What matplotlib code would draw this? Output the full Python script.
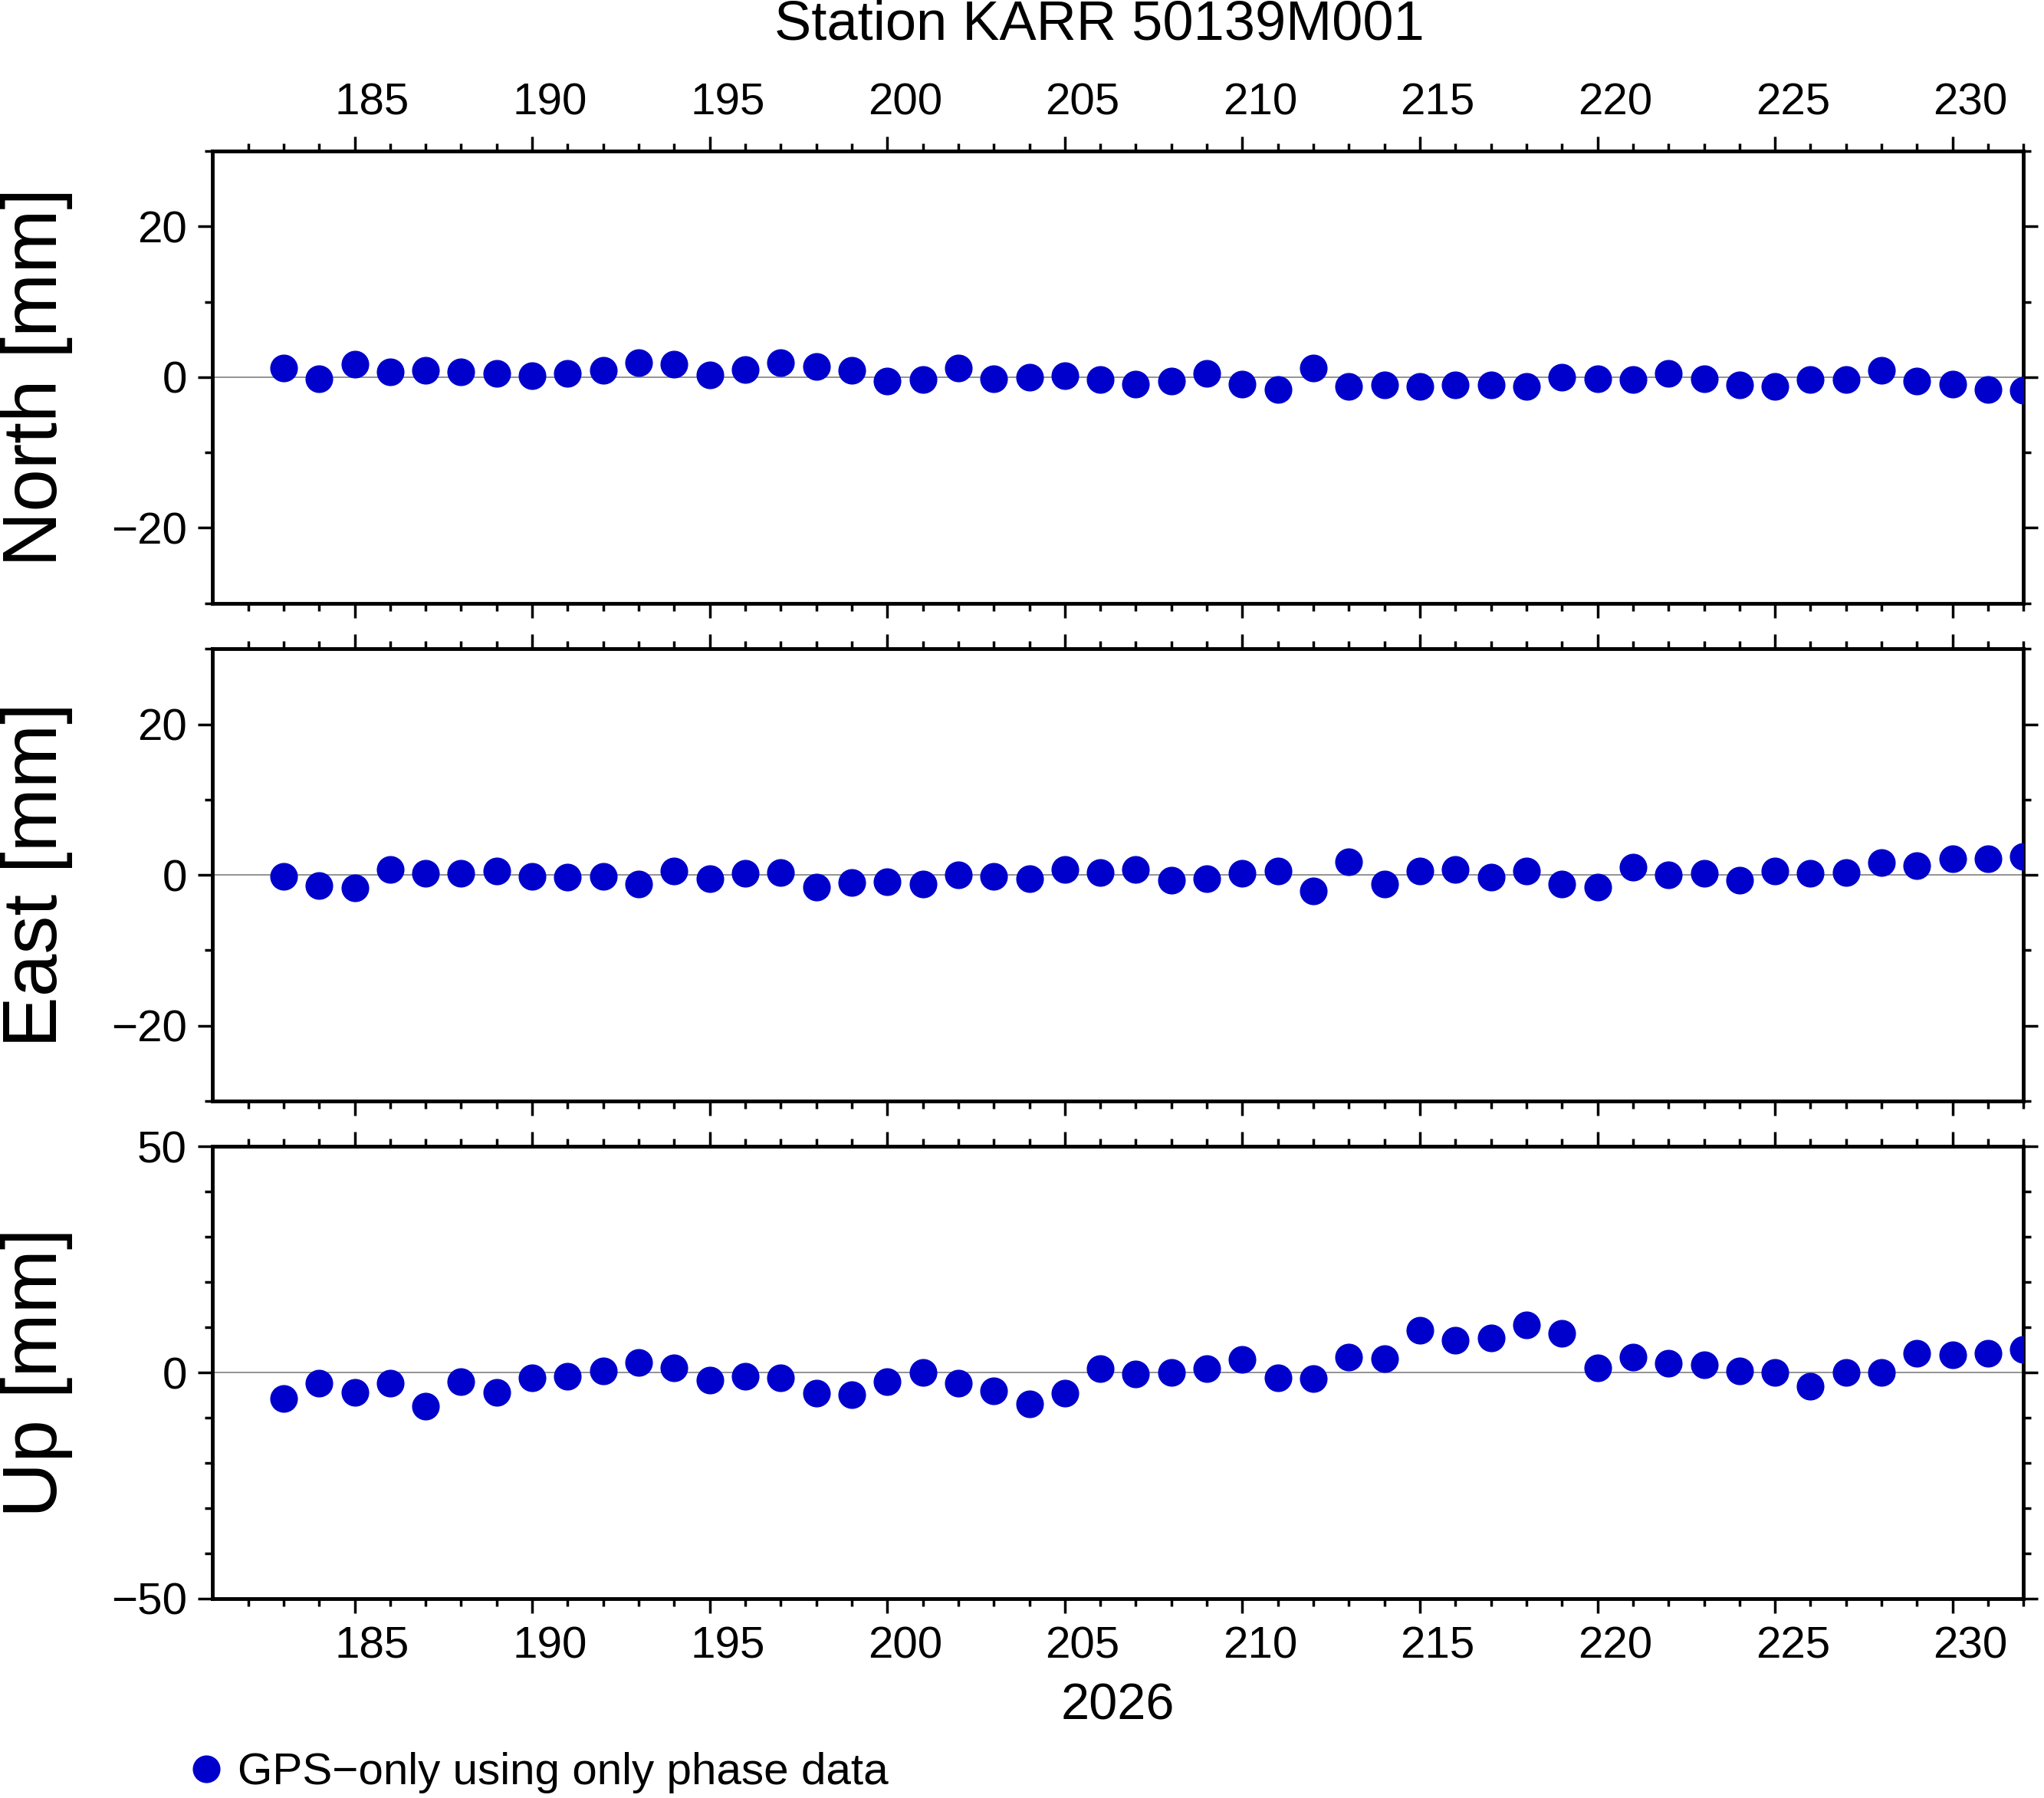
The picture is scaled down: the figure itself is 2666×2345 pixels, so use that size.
import numpy as np
import matplotlib
matplotlib.use("Agg")
import matplotlib.pyplot as plt
from matplotlib.lines import Line2D
import matplotlib.transforms as mtransforms

plt.rcParams['font.family'] = ['Liberation Sans', 'DejaVu Sans']

# ==============================
# Data (day of year 2026, mm)
# ==============================
days = np.arange(183, 233)
north = [1.2, -0.2, 1.7, 0.7, 0.9, 0.7, 0.5, 0.2, 0.5, 0.9,
         1.9, 1.7, 0.3, 1.0, 1.9, 1.4, 0.9, -0.5, -0.3, 1.2,
         -0.2, 0.0, 0.2, -0.3, -0.9, -0.5, 0.5, -0.9, -1.6, 1.2,
         -1.2, -1.0, -1.2, -1.0, -1.0, -1.2, 0.0, -0.2, -0.3, 0.5,
         -0.2, -1.0, -1.2, -0.3, -0.3, 0.9, -0.5, -0.9, -1.6, -1.7]
east = [-0.2, -1.4, -1.7, 0.7, 0.2, 0.2, 0.5, -0.2, -0.3, -0.2,
        -1.2, 0.5, -0.5, 0.2, 0.3, -1.6, -1.0, -0.9, -1.2, 0.0,
        -0.2, -0.5, 0.7, 0.3, 0.7, -0.7, -0.5, 0.2, 0.5, -2.1,
        1.7, -1.2, 0.5, 0.7, -0.3, 0.5, -1.2, -1.6, 1.0, 0.0,
        0.2, -0.7, 0.5, 0.2, 0.3, 1.6, 1.2, 2.1, 2.1, 2.4]
up = [-5.7, -2.3, -4.3, -2.3, -7.4, -2.0, -4.3, -1.1, -0.9, 0.3,
      2.3, 1.1, -1.7, -0.9, -1.1, -4.6, -4.9, -2.0, 0.0, -2.3,
      -4.0, -6.9, -4.6, 0.9, -0.3, 0.0, 0.9, 2.9, -1.1, -1.4,
      3.4, 3.1, 9.4, 7.1, 7.7, 10.6, 8.6, 1.1, 3.4, 2.0,
      1.7, 0.3, 0.0, -3.1, 0.0, 0.0, 4.3, 4.0, 4.3, 5.1]

labels = ["North [mm]", "East [mm]", "Up [mm]"]
series = [north, east, up]
ylims = [(-30, 30), (-30, 30), (-50, 50)]
ymajor = [20, 20, 50]
yminor = [10, 10, 10]
xticks = np.arange(185, 233, 5)

color = "#0000cc"
fig = plt.figure(figsize=(26.66, 23.45), dpi=100)
bottoms = [0.6645, 0.3877, 0.1109]
axes = []
for i in range(3):
    ax = fig.add_axes([0.104, bottoms[i], 0.886, 0.2514])
    ax.plot(days, series[i], "o", color=color, markersize=25, zorder=3)
    ax.axhline(0, color="gray", lw=1.2, zorder=1)
    ax.set_xlim(181, 232)
    ax.set_ylim(*ylims[i])
    lo, hi = ylims[i]
    ax.set_yticks(np.arange(-ymajor[i] * (abs(lo) // ymajor[i]), hi + 1, ymajor[i]))
    ax.set_yticks(np.arange(lo, hi + 1, yminor[i]), minor=True)
    ax.set_xticks(xticks)
    ax.set_xticks(np.arange(182, 233), minor=True)
    ax.set_xticklabels([])
    ax.tick_params(which="both", direction="out", top=True, right=True,
                   width=2.5, labelsize=42, pad=10)
    ax.tick_params(which="major", length=14)
    ax.tick_params(which="minor", length=7)
    for s in ax.spines.values():
        s.set_linewidth(3.5)
    fig.text(0.018, bottoms[i] + 0.2514 / 2, labels[i], rotation=90,
             fontsize=72, ha="center", va="center")
    axes.append(ax)

# shifted day labels (GMT style)
for ax, top in [(axes[0], True), (axes[2], False)]:
    tr = mtransforms.blended_transform_factory(ax.transData, ax.transAxes)
    for d in xticks:
        ax.text(d + 0.5, 1.06 if top else -0.06, str(d), transform=tr,
                fontsize=42, ha="center", va="bottom" if top else "top")

fig.text(0.547, 0.051, "2026", fontsize=48, ha="center", va="center")
fig.text(0.538, 0.986, "Station KARR 50139M001", fontsize=52, ha="center", va="center")

handle = Line2D([], [], marker="o", ls="none", color=color, markersize=25)
fig.legend([handle], ["GPS\u2212only using only phase data"], loc="center left",
           bbox_to_anchor=(0.090, 0.014), frameon=False, fontsize=42,
           handletextpad=0.2, handlelength=1.0, borderpad=0, borderaxespad=0)

fig.savefig("out.png", dpi=100)
